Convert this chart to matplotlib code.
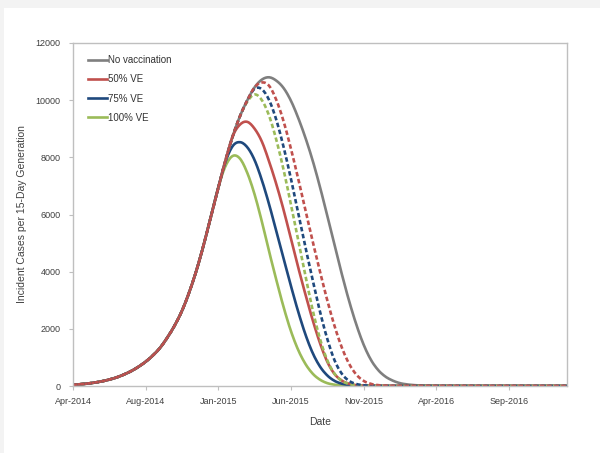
import matplotlib
matplotlib.use("Agg")
import matplotlib.pyplot as plt
import matplotlib.dates as mdates
from matplotlib.patches import Rectangle
from matplotlib.lines import Line2D
import numpy as np
import datetime as dt

# ---- data (incident cases per 15-day generation) ----
start_date = dt.date(2014, 4, 1)
generation_days = 15
tick_step_days = 150
n_ticks = 7
x_end_days = 1020

common_rise = [40, 60, 85, 120, 165, 225, 300, 400, 520, 670,
               850, 1070, 1340, 1700, 2120, 2630, 3280, 4050, 4950, 5950]

no_vacc_rest = [6950, 7900, 8750, 9450, 10000, 10450, 10720, 10800, 10680, 10420,
                9980, 9380, 8680, 7880, 6960, 5960, 4930, 3920, 2980, 2150,
                1450, 920, 560, 330, 190, 100, 55, 30, 15, 8,
                4, 2, 1, 1, 0, 0, 0, 0, 0, 0,
                0, 0, 0, 0, 0, 0, 0, 0, 0]

ve50_solid_rest = [6950, 7900, 8750, 9150, 9240, 9000, 8550, 7850, 7050, 6150,
                   5150, 4150, 3200, 2300, 1500, 850, 420, 190, 80, 30,
                   10, 4, 1, 0, 0, 0, 0, 0, 0, 0,
                   0, 0, 0, 0, 0, 0, 0, 0, 0, 0,
                   0, 0, 0, 0, 0, 0, 0, 0, 0]

ve75_solid_rest = [6950, 7850, 8400, 8530, 8350, 7900, 7200, 6350, 5400, 4450,
                   3500, 2600, 1800, 1150, 680, 370, 180, 80, 35, 12,
                   5, 2, 1, 0, 0, 0, 0, 0, 0, 0,
                   0, 0, 0, 0, 0, 0, 0, 0, 0, 0,
                   0, 0, 0, 0, 0, 0, 0, 0, 0]

ve100_solid_rest = [6950, 7700, 8050, 7950, 7450, 6700, 5750, 4700, 3700, 2750,
                    1920, 1260, 770, 430, 220, 100, 45, 18, 7, 3,
                    1, 0, 0, 0, 0, 0, 0, 0, 0, 0,
                    0, 0, 0, 0, 0, 0, 0, 0, 0, 0,
                    0, 0, 0, 0, 0, 0, 0, 0, 0]

ve50_dashed_rest = [6950, 7900, 8750, 9450, 10000, 10450, 10620, 10500, 10000, 9250,
                    8300, 7250, 6150, 5050, 4000, 3000, 2100, 1350, 780, 400,
                    180, 75, 30, 12, 5, 2, 1, 0, 0, 0,
                    0, 0, 0, 0, 0, 0, 0, 0, 0, 0,
                    0, 0, 0, 0, 0, 0, 0, 0, 0]

ve75_dashed_rest = [6950, 7900, 8750, 9450, 10000, 10400, 10380, 10000, 9300, 8350,
                    7250, 6050, 4850, 3700, 2600, 1650, 900, 430, 180, 70,
                    25, 10, 4, 1, 0, 0, 0, 0, 0, 0,
                    0, 0, 0, 0, 0, 0, 0, 0, 0, 0,
                    0, 0, 0, 0, 0, 0, 0, 0, 0]

ve100_dashed_rest = [6950, 7900, 8750, 9450, 9950, 10200, 10000, 9450, 8600, 7550,
                     6350, 5100, 3850, 2650, 1650, 900, 430, 180, 70, 25,
                     10, 4, 1, 0, 0, 0, 0, 0, 0, 0,
                     0, 0, 0, 0, 0, 0, 0, 0, 0, 0,
                     0, 0, 0, 0, 0, 0, 0, 0, 0]

legend_labels = ["No vaccination", "50% VE", "75% VE", "100% VE"]
y_ticks = [0, 2000, 4000, 6000, 8000, 10000, 12000]

# ---- styling ----
c_gray = "#7f7f7f"
c_red = "#c0504d"
c_blue = "#1f497d"
c_green = "#9bbb59"
lw = 1.9
dash = (1.7, 1.0)


def smooth_line(xs, ys, steps=8):
    """Excel-style smoothed line: Catmull-Rom curve through the data points."""
    xs = np.asarray(xs, float)
    ys = np.asarray(ys, float)
    px = np.concatenate([[xs[0]], xs, [xs[-1]]])
    py = np.concatenate([[ys[0]], ys, [ys[-1]]])
    out_x, out_y = [], []
    t = np.linspace(0, 1, steps, endpoint=False)
    for i in range(1, len(px) - 2):
        for arr, out in ((px, out_x), (py, out_y)):
            p0, p1, p2, p3 = arr[i - 1], arr[i], arr[i + 1], arr[i + 2]
            out.extend(0.5 * ((2 * p1) + (-p0 + p2) * t
                              + (2 * p0 - 5 * p1 + 4 * p2 - p3) * t ** 2
                              + (-p0 + 3 * p1 - 3 * p2 + p3) * t ** 3))
    out_x.append(xs[-1])
    out_y.append(ys[-1])
    return np.array(out_x), np.clip(np.array(out_y), 0, None)


fig = plt.figure(figsize=(6.0, 4.53), dpi=100)
fig.patch.set_facecolor("#f3f3f3")
fig.add_artist(Rectangle((4 / 600, 0), 1, 1 - 8 / 453, transform=fig.transFigure,
                         facecolor="white", edgecolor="none", zorder=-5))
ax = fig.add_axes([73 / 600, 1 - 386 / 453, (567 - 73) / 600, (386 - 43) / 453])

series = [
    (common_rise + no_vacc_rest, c_gray, "-"),
    (common_rise + ve100_solid_rest, c_green, "-"),
    (common_rise + ve75_solid_rest, c_blue, "-"),
    (common_rise + ve50_solid_rest, c_red, "-"),
    (common_rise + ve100_dashed_rest, c_green, "--"),
    (common_rise + ve75_dashed_rest, c_blue, "--"),
    (common_rise + ve50_dashed_rest, c_red, "--"),
]
for vals, col, ls in series:
    dates = [start_date + dt.timedelta(days=generation_days * i) for i in range(len(vals))]
    xnum = mdates.date2num(dates)
    sx, sy = smooth_line(xnum, vals)
    ln, = ax.plot(sx, sy, color=col, lw=lw, solid_capstyle="round")
    if ls == "--":
        ln.set_dashes(dash)

ax.set_ylim(0, 12000)
ax.set_yticks(y_ticks)
ax.set_xlim(start_date, start_date + dt.timedelta(days=x_end_days))
ax.xaxis_date()
ax.set_xticks([start_date + dt.timedelta(days=tick_step_days * k) for k in range(n_ticks)])
ax.xaxis.set_major_formatter(mdates.DateFormatter("%b-%Y"))

for s in ax.spines.values():
    s.set_color("#bfbfbf")
    s.set_linewidth(1.0)
ax.tick_params(axis="both", length=3, color="#bfbfbf", labelsize=6.5,
               labelcolor="#404040")
ax.tick_params(axis="y", pad=6)
ax.tick_params(axis="x", pad=5)

font = "Liberation Sans"
for lab in ax.get_xticklabels() + ax.get_yticklabels():
    lab.set_fontfamily(font)

ax.set_xlabel("Date", fontsize=7.5, color="#404040", fontfamily=font, labelpad=8)
ax.set_ylabel("Incident Cases per 15-Day Generation", fontsize=7.5, color="#404040",
              fontfamily=font, labelpad=6)

handles = [Line2D([], [], color=c, lw=lw) for c in (c_gray, c_red, c_blue, c_green)]
leg = ax.legend(handles, legend_labels, loc="upper left", bbox_to_anchor=(0.012, 0.99),
                frameon=False, handlelength=2.0, handletextpad=0.1, labelspacing=0.95,
                prop={"family": font, "size": 7})
for t in leg.get_texts():
    t.set_color("#333333")

fig.savefig("out.png", dpi=100, facecolor=fig.get_facecolor())
